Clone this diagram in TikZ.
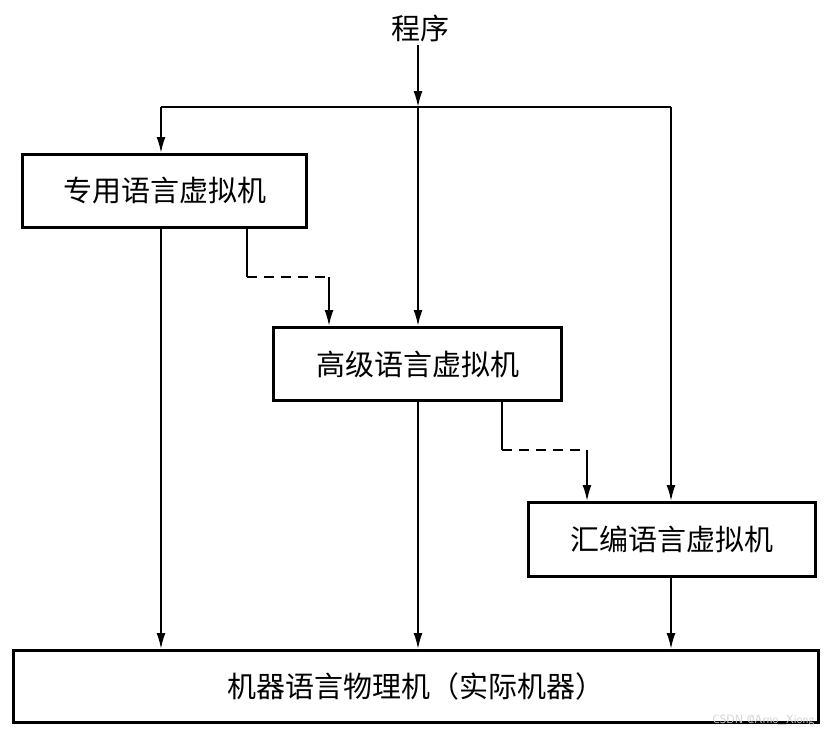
\documentclass[tikz,border=0pt]{standalone}
\usepackage{fontspec}
\newfontfamily\cjk{Noto Sans CJK SC}
\usetikzlibrary{arrows.meta}
\begin{document}
\begin{tikzpicture}[x=1pt,y=-1pt,
  vmbox/.style={draw,line width=3pt,inner sep=0pt,anchor=north west,font=\cjk\fontsize{29}{30}\selectfont},
  conn/.style={line width=1.9pt,-{Latex[length=16pt,width=9pt]}},
  plain/.style={line width=1.9pt},
  dsh/.style={line width=1.9pt,dash pattern=on 10pt off 7pt}]
\useasboundingbox (0,0) rectangle (829,736);
\fill[white] (0,0) rectangle (829,736);
\node[font=\cjk\fontsize{29}{30}\selectfont] (prog) at (420,28) {程序};
\node[vmbox,minimum width=284pt,minimum height=73pt] (b1) at (21,153) {专用语言虚拟机};
\node[vmbox,minimum width=288pt,minimum height=73pt] (b2) at (272,326) {高级语言虚拟机};
\node[vmbox,minimum width=287pt,minimum height=74pt] (b3) at (527,501) {汇编语言虚拟机};
\node[vmbox,minimum width=805pt,minimum height=72pt] (b4) at (12,649) {机器语言物理机（实际机器）};
\coordinate (split) at (418,107);
\coordinate (sl) at (161,107);
\coordinate (sr) at (671,107);
\coordinate (d1a) at (247,277);
\coordinate (d1b) at (329,277);
\coordinate (d2a) at (502,450);
\coordinate (d2b) at (587,450);
\draw[conn] (prog.south -| split) -- (split);
\draw[plain] (sl) -- (sr);
\draw[conn] (sl) -- (sl |- b1.north);
\draw[conn] (split) -- (split |- b2.north);
\draw[conn] (sr) -- (sr |- b3.north);
\draw[conn] (b1.south -| sl) -- (sl |- b4.north);
\draw[conn] (b2.south -| split) -- (split |- b4.north);
\draw[conn] (b3.south -| sr) -- (sr |- b4.north);
\draw[plain] (b1.south -| d1a) -- (d1a);
\draw[dsh] (d1a) -- (d1b);
\draw[conn] (d1b) -- (d1b |- b2.north);
\draw[plain] (b2.south -| d2a) -- (d2a);
\draw[dsh] (d2a) -- (d2b);
\draw[conn] (d2b) -- (d2b |- b3.north);
\node[font=\sffamily\fontsize{12}{12}\selectfont,text=gray!35,anchor=east] (wm) at (818,720) {CSDN @Arno\_Xiong};
\end{tikzpicture}
\end{document}
